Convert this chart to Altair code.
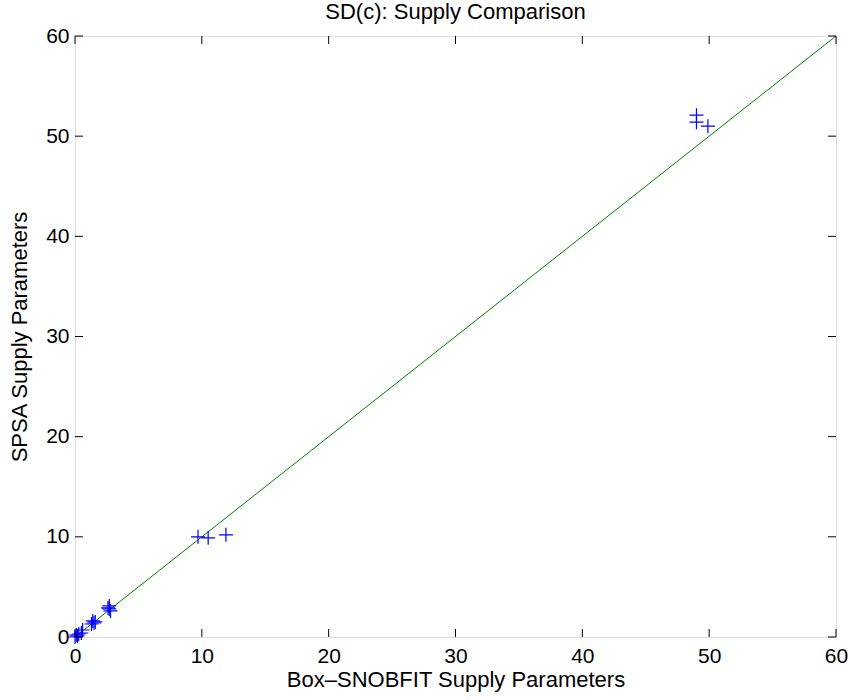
import altair as alt
import pandas as pd

# Fitted supply parameters from the two calibration methods
box_snobfit = [49.0, 49.0, 49.9, 9.7, 10.5, 11.9,
               2.7, 2.7, 2.8, 2.6,
               1.4, 1.5, 1.6, 1.3,
               0.6, 0.5, 0.3, 0.2, 0.1, 0.0]
spsa = [52.1, 51.4, 51.0, 10.0, 9.9, 10.2,
        3.1, 2.8, 2.6, 2.9,
        1.6, 1.4, 1.5, 1.3,
        0.7, 0.4, 0.3, 0.1, 0.2, 0.0]

diag_x = [0, 60]
ticks = [0, 10, 20, 30, 40, 50, 60]

W, H = 761, 601
FONT = "Liberation Sans"
FS = 22
LFS = 21

pts = pd.DataFrame({"x": box_snobfit, "y": spsa})
diag = pd.DataFrame({"x": diag_x, "y": diag_x})
tk = pd.DataFrame({"t": ticks})

xs = alt.Scale(domain=[0, 60], nice=False, zero=False)
ys = alt.Scale(domain=[0, 60], nice=False, zero=False)

common = dict(values=ticks, format="d", grid=False, ticks=False, domain=False,
              labelFont=FONT, labelFontSize=LFS, labelColor="black", labelFlush=False,
              titleFont=FONT, titleFontSize=FS, titleFontWeight="normal",
              titleColor="black")
x_axis = alt.Axis(title="Box\u2013SNOBFIT Supply Parameters", labelPadding=8,
                  titlePadding=3, **common)
y_axis = alt.Axis(title="SPSA Supply Parameters", labelPadding=6,
                  titlePadding=14, **common)

line = alt.Chart(diag).mark_line(color="#008000", strokeWidth=1, clip=True).encode(
    x=alt.X("x:Q", scale=xs, axis=x_axis),
    y=alt.Y("y:Q", scale=ys, axis=y_axis),
)

plus = alt.Chart(pts).mark_point(
    shape="M-1,0L1,0M0,-1L0,1", size=196, filled=False,
    color="#0000ff", strokeWidth=1.2, opacity=1, clip=False,
).encode(x=alt.X("x:Q", scale=xs), y=alt.Y("y:Q", scale=ys))

TL = 8
inner_ticks = alt.Chart(tk).mark_rule(color="black", strokeWidth=1)
tick_bottom = inner_ticks.encode(x=alt.X("t:Q", scale=xs), y=alt.value(H), y2=alt.value(H - TL))
tick_top = inner_ticks.encode(x=alt.X("t:Q", scale=xs), y=alt.value(0), y2=alt.value(TL))
tick_left = inner_ticks.encode(y=alt.Y("t:Q", scale=ys), x=alt.value(0), x2=alt.value(TL))
tick_right = inner_ticks.encode(y=alt.Y("t:Q", scale=ys), x=alt.value(W), x2=alt.value(W - TL))

chart = alt.layer(line, plus, tick_bottom, tick_top, tick_left, tick_right).properties(
    width=W, height=H,
    title=alt.TitleParams("SD(c): Supply Comparison", font=FONT, fontSize=FS,
                          fontWeight="normal", color="black", offset=1),
    autosize=alt.AutoSizeParams(type="none"),
    padding={"left": 75, "top": 36, "right": 16, "bottom": 63},
).configure_view(stroke="black", strokeWidth=1).configure(background="white")

chart.save("out.html", embed_options={"renderer": "svg", "actions": False})
